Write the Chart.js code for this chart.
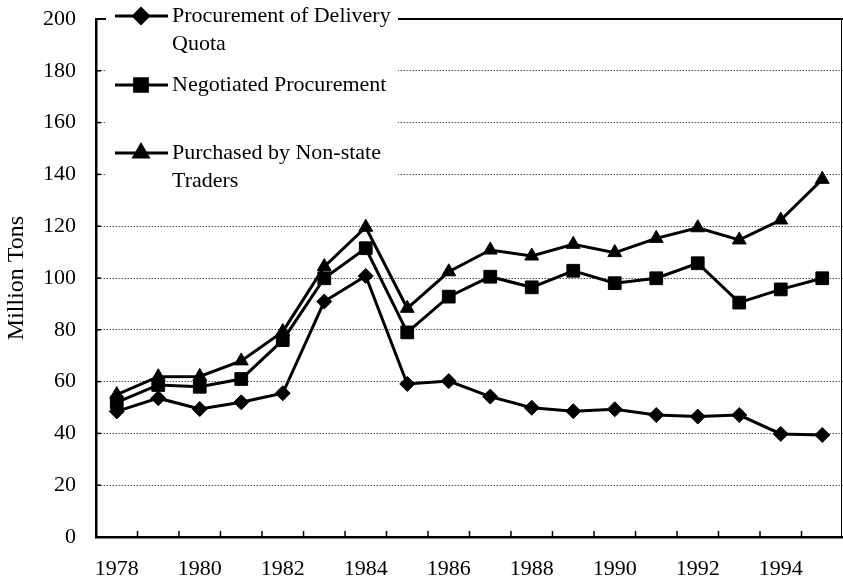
<!DOCTYPE html>
<html><head><meta charset="utf-8">
<script src="https://cdn.jsdelivr.net/npm/chart.js@4/dist/chart.umd.min.js"></script>
<style>html,body{margin:0;padding:0;background:#fff}#wrap{width:843px;height:582px;position:relative}</style>
</head><body><div id="wrap"><canvas id="c" width="843" height="582"></canvas></div>
<script>
const years = ['1978','1979','1980','1981','1982','1983','1984','1985','1986','1987','1988','1989','1990','1991','1992','1993','1994','1995'];
const deliveryQuota = [48.5, 53.6, 49.4, 52.0, 55.5, 90.9, 100.8, 59.1, 60.2, 54.2, 49.9, 48.6, 49.3, 47.1, 46.5, 47.1, 39.8, 39.4];
const negotiated    = [52.0, 58.7, 58.0, 61.0, 76.0, 99.9, 111.5, 79.0, 92.8, 100.5, 96.4, 102.8, 98.0, 99.9, 105.7, 90.5, 95.6, 99.9];
const nonState      = [55.0, 61.9, 62.0, 68.0, 79.3, 104.4, 119.6, 88.3, 102.4, 110.8, 108.5, 113.0, 109.8, 115.3, 119.4, 114.7, 122.4, 138.1];
const legendLines = [['Procurement of Delivery','Quota'],['Negotiated Procurement'],['Purchased by Non-state','Traders']];
const yMin = 0, yMax = 200, yStep = 20;
const yTitle = 'Million Tons';

const FONT = "'Liberation Serif','Times New Roman',serif";
Chart.defaults.font.family = FONT;
Chart.defaults.font.size = 22;
Chart.defaults.color = '#000';

const extras = {
  id: 'extras',
  beforeDatasetsDraw(chart) {
    const {ctx, chartArea: a, scales: {x, y}} = chart;
    ctx.save();
    ctx.strokeStyle = '#000';
    ctx.lineWidth = 2;
    ctx.beginPath(); ctx.moveTo(a.left, a.top); ctx.lineTo(a.right, a.top); ctx.stroke();
    ctx.lineWidth = 1;
    ctx.beginPath(); ctx.moveTo(a.right - 1.5, a.top); ctx.lineTo(a.right - 1.5, a.bottom); ctx.stroke();
    ctx.lineWidth = 1.5;
    y.ticks.forEach(t => {
      const py = y.getPixelForValue(t.value);
      ctx.beginPath(); ctx.moveTo(a.left, py); ctx.lineTo(a.left + 5, py); ctx.stroke();
    });
    const half = (x.getPixelForValue(1) - x.getPixelForValue(0)) / 2;
    for (let i = 1; i < years.length; i++) {
      const px = x.getPixelForValue(i) - half;
      ctx.beginPath(); ctx.moveTo(px, a.bottom); ctx.lineTo(px, a.bottom - 6); ctx.stroke();
    }
    ctx.restore();
  },
  afterDatasetsDraw(chart) {
    const {ctx} = chart;
    ctx.save();
    ctx.fillStyle = '#fff';
    ctx.fillRect(106, 0, 292, 190);
    const rows = [16, 85, 153];
    chart.data.datasets.forEach((ds, i) => {
      const cy = rows[i];
      ctx.strokeStyle = '#000';
      ctx.lineWidth = ds.borderWidth;
      ctx.beginPath(); ctx.moveTo(115, cy); ctx.lineTo(168, cy); ctx.stroke();
      ctx.fillStyle = '#000';
      Chart.helpers.drawPoint(ctx, {pointStyle: ds.pointStyle, radius: ds.pointRadius, rotation: 0, borderWidth: 1}, 141, cy);
      ctx.fillStyle = '#000';
      ctx.font = '22px ' + FONT;
      ctx.textBaseline = 'middle';
      ctx.textAlign = 'left';
      legendLines[i].forEach((ln, k) => ctx.fillText(ln, 172, cy + k * 28));
    });
    ctx.restore();
  }
};

new Chart(document.getElementById('c'), {
  type: 'line',
  data: {
    labels: years,
    datasets: [
      {label: legendLines[0].join(' '), data: deliveryQuota, pointStyle: 'rectRot', pointRadius: 7.5},
      {label: legendLines[1].join(' '), data: negotiated, pointStyle: 'rect', pointRadius: 9},
      {label: legendLines[2].join(' '), data: nonState, pointStyle: 'triangle', pointRadius: 8}
    ].map(d => Object.assign(d, {borderColor: '#000', backgroundColor: '#000', pointBackgroundColor: '#000', pointBorderColor: '#000', borderWidth: 3, pointBorderWidth: 1, tension: 0, fill: false}))
  },
  options: {
    responsive: false,
    devicePixelRatio: 1,
    animation: false,
    layout: {autoPadding: false, padding: {top: 19, right: 0, left: 0, bottom: 0}},
    plugins: {legend: {display: false}, tooltip: {enabled: false}},
    scales: {
      x: {
        offset: true,
        grid: {display: true, drawOnChartArea: false, drawTicks: false, offset: true},
        border: {display: true, color: '#000', width: 2.5},
        ticks: {autoSkip: false, maxRotation: 0, minRotation: 0, padding: 19,
          callback: function(v, i) { return i % 2 === 0 ? years[i] : ''; }},
        afterFit: s => { s.height = 45; s.paddingLeft = 0; s.paddingRight = 0; }
      },
      y: {
        min: yMin, max: yMax,
        grid: {color: '#555', lineWidth: 1, drawTicks: false},
        border: {display: true, color: '#000', width: 2.5, dash: [1.5, 1.5]},
        ticks: {stepSize: yStep, padding: 20},
        title: {display: true, text: yTitle, font: {size: 24}, padding: {top: 2, bottom: 0}},
        afterFit: s => { s.width = 96; s.paddingTop = 0; s.paddingBottom = 0; }
      }
    }
  },
  plugins: [extras]
});
</script></body></html>
